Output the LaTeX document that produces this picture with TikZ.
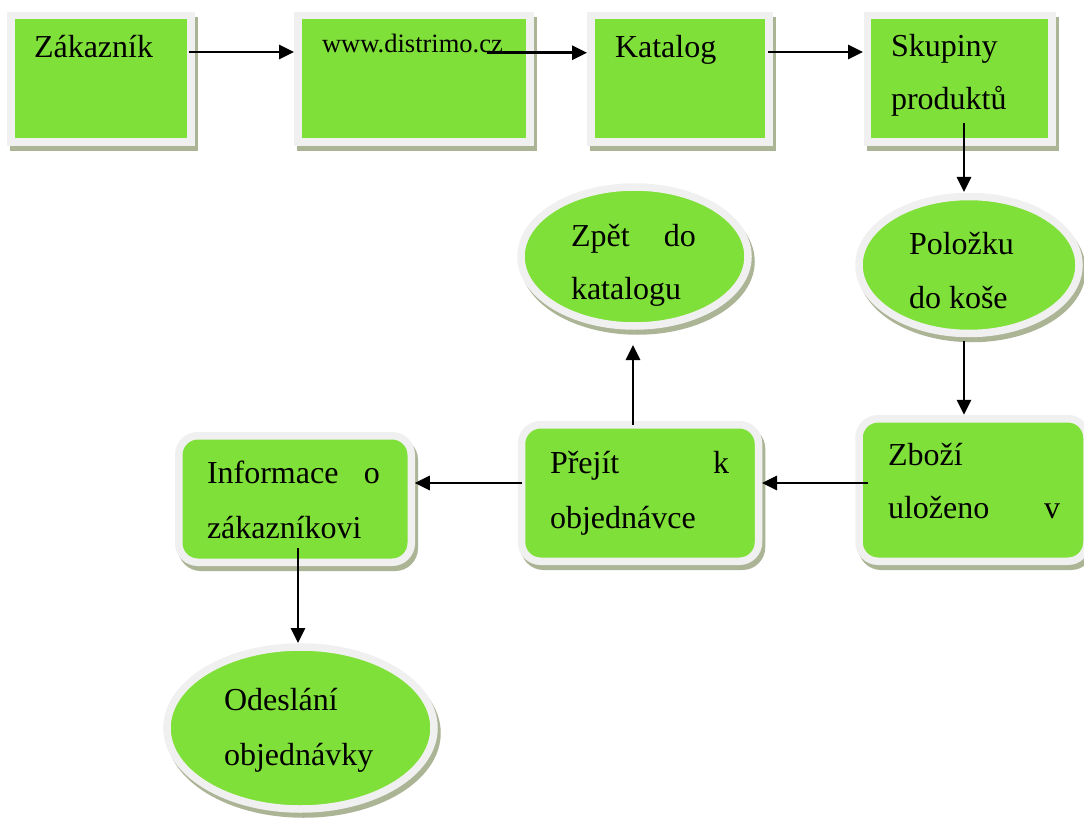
\documentclass[tikz,border=0pt]{standalone}
\usepackage{fontspec}
\setmainfont{Liberation Serif}
\usetikzlibrary{arrows.meta,shapes.geometric}

\definecolor{leaf}{RGB}{128,224,58}
\definecolor{rim}{RGB}{240,240,240}
\definecolor{shade}{RGB}{172,180,150}

% two stacked lines, baseline at the first one
\newcommand\twoln[3]{\vtop{\baselineskip=#3pt\hbox{#1}\hbox{#2}}}

\tikzset{
  x=1pt, y=-1pt,
  framed/.style={draw=rim, fill=leaf, line width=7.5pt, inner sep=0pt, outer sep=0pt,
    preaction={draw=shade, fill=shade, line width=7.5pt,
      transform canvas={shift={(3pt,-5pt)}}}},
  squarebox/.style={framed, rectangle},
  roundbox/.style={framed, rectangle, rounded corners=19pt},
  oval/.style={framed, ellipse},
  lbl/.style={anchor=base west, inner sep=0pt, outer sep=0pt,
    font=\fontsize{32}{54}\selectfont},
  arr/.style={line width=2.8pt, -{Triangle[length=15pt,width=14pt]}},
}

\begin{document}
\begin{tikzpicture}
\useasboundingbox (0,0) rectangle (1084,818);
\clip (0,0) rectangle (1084,818);
\fill[white] (0,0) rectangle (1084,818);

% top row
\node[squarebox, minimum width=180, minimum height=126.5] (zak) at (101,78.75) {};
\node[squarebox, minimum width=232, minimum height=126.5] (www) at (414,78.75) {};
\node[squarebox, minimum width=178, minimum height=126.5] (kat) at (680,78.75) {};
\node[squarebox, minimum width=184.5, minimum height=126.5] (sku) at (959.75,78.75) {};

% ellipses
\node[oval, minimum width=220, minimum height=137] (pol) at (969,265) {};
\node[oval, minimum width=227, minimum height=139] (zpet) at (634.5,256.5) {};
\node[oval, minimum width=267, minimum height=162] (ode) at (300.5,728) {};

% rounded boxes
\node[roundbox, minimum width=228, minimum height=142.5] (zbo) at (973,490) {};
\node[roundbox, minimum width=237, minimum height=136.5] (pre) at (640,493) {};
\node[roundbox, minimum width=232.5, minimum height=126.5] (inf) at (295,499) {};

% texts
\node[lbl] (zak-t) at (34,58) {Zákazník};
\node[lbl, font=\fontsize{26.5}{32}\selectfont] (www-t) at (322,53) {www.distrimo.cz};
\node[lbl] (kat-t) at (615,58) {Katalog};
\node[lbl] (sku-t) at (891,57) {\twoln{Skupiny}{produktů}{53}};
\begin{scope}
  \clip (850,180) rectangle (1084,308.5);
  \node[lbl] (pol-t) at (909,255) {\twoln{Položku}{do koše}{54}};
\end{scope}
\node[lbl] (zpet-t) at (571,247) {\twoln{\hbox to 125pt{Zpět\hfill do}}{katalogu}{53}};
\node[lbl] (zbo-t) at (888,465) {\twoln{Zboží}{\hbox to 172pt{uloženo\hfill v}}{53}};
\node[lbl] (pre-t) at (550,473) {\twoln{\hbox to 179pt{Přejít\hfill k}}{objednávce}{55}};
\node[lbl] (inf-t) at (207,483) {\twoln{\hbox to 173pt{Informace\hfill o}}{zákazníkovi}{55}};
\node[lbl] (ode-t) at (224,710) {\twoln{Odeslání}{objednávky}{55}};

% connectors
\draw[arr] ([xshift=-2pt, yshift=26.75pt]zak.east) -- ([xshift=-4pt, yshift=26.75pt]www.west);
\draw[arr] ([xshift=-43pt, yshift=26pt]www.east) -- ([xshift=-4pt, yshift=26pt]kat.west);
\draw[arr] ([xshift=-1pt, yshift=26.75pt]kat.east) -- ([xshift=-4.5pt, yshift=26.75pt]sku.west);
\draw[arr] ([xshift=4.25pt, yshift=19pt]sku.south) -- ([xshift=-5pt, yshift=4.5pt]pol.north);
\draw[arr] ([xshift=-5pt, yshift=-7pt]pol.south) -- ([xshift=-9pt, yshift=4pt]zbo.north);
\draw[arr] ([xshift=9pt, yshift=7pt]zbo.west) -- ([xshift=3.5pt, yshift=10pt]pre.east);
\draw[arr] ([xshift=0.5pt, yshift=10pt]pre.west) -- ([xshift=3.5pt, yshift=16pt]inf.east);
\draw[arr] ([xshift=-7pt]pre.north) -- ([xshift=-1.5pt, yshift=-19pt]zpet.south);
\draw[arr] ([xshift=3pt, yshift=14pt]inf.south) -- ([xshift=-2.5pt, yshift=4pt]ode.north);
\end{tikzpicture}
\end{document}
